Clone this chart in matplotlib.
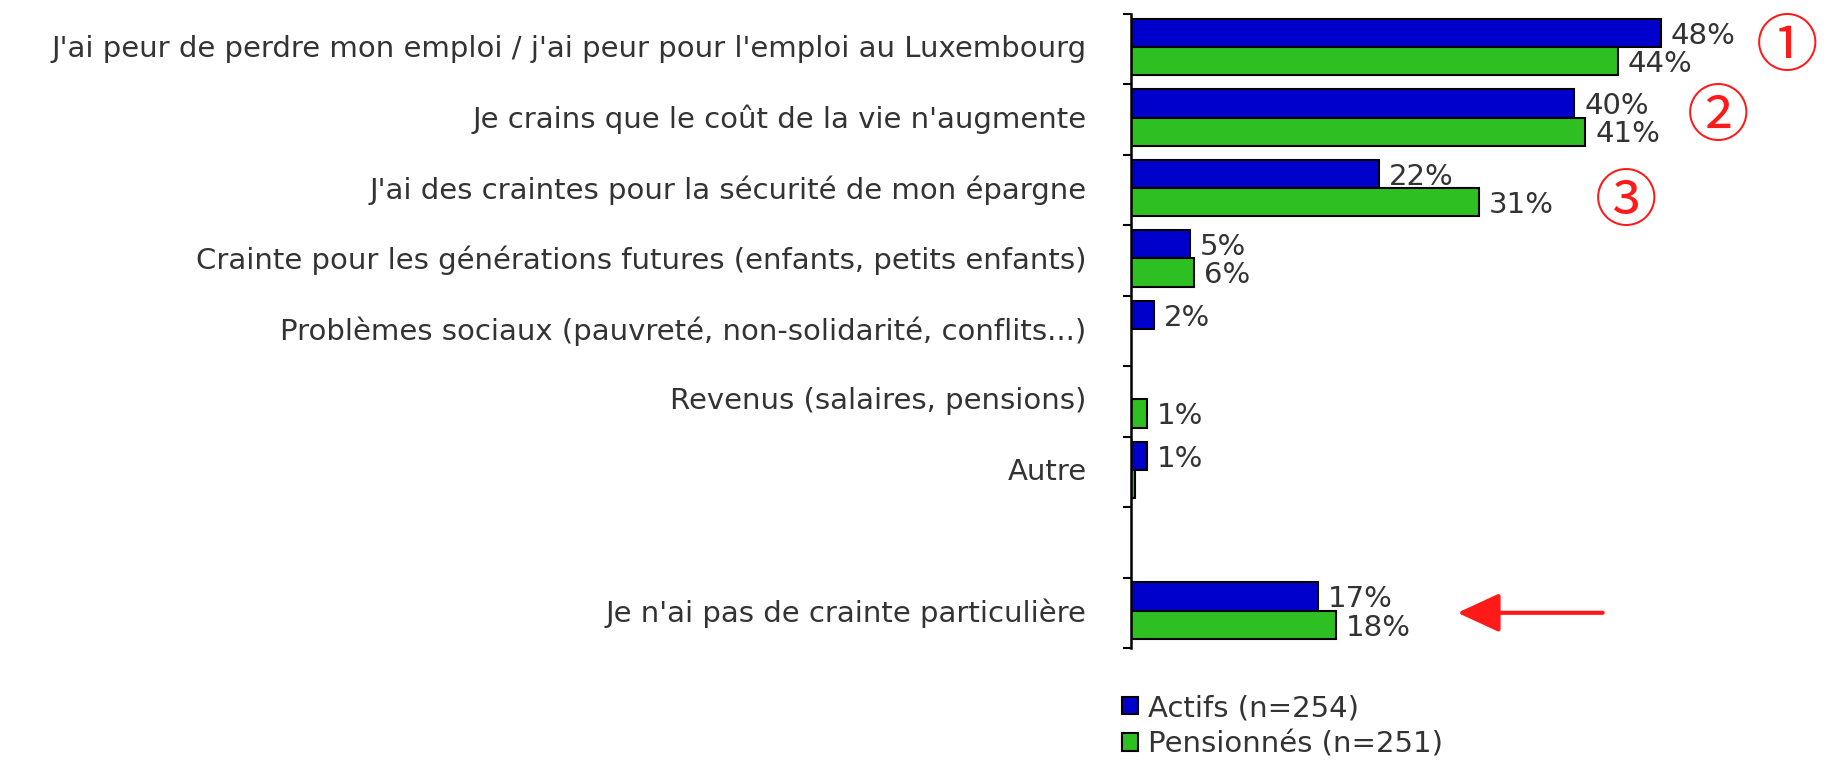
import matplotlib
matplotlib.use("Agg")
import matplotlib.pyplot as plt
from matplotlib.patches import Patch

# categories, top to bottom (None = empty slot)
categories = [
    "J'ai peur de perdre mon emploi / j'ai peur pour l'emploi au Luxembourg",
    "Je crains que le coût de la vie n'augmente",
    "J'ai des craintes pour la sécurité de mon épargne",
    "Crainte pour les générations futures (enfants, petits enfants)",
    "Problèmes sociaux (pauvreté, non-solidarité, conflits...)",
    "Revenus (salaires, pensions)",
    "Autre",
    None,
    "Je n'ai pas de crainte particulière",
]
actifs = [47.8, 40.0, 22.4, 5.3, 2.1, 0.0, 1.4, None, 16.9]
pensionnes = [43.9, 41.0, 31.4, 5.7, 0.0, 1.4, 0.4, None, 18.5]
series_names = ["Actifs (n=254)", "Pensionnés (n=251)"]
ranks = ["①", "②", "③"]

BLUE = "#0000cc"
GREEN = "#2ebf23"
TXT = "#333333"
FS = 21

plt.rcParams['font.family'] = ['DejaVu Sans']

fig = plt.figure(figsize=(18.3, 7.61), dpi=100)
ax = fig.add_axes([1131 / 1830, 1 - 648 / 761, 1 - 1131 / 1830, (648 - 14) / 761])

n = len(categories)
for i, (a, p) in enumerate(zip(actifs, pensionnes)):
    if a is None:
        continue
    for v, col, off in ((a, BLUE, -0.23), (p, GREEN, 0.17)):
        if v <= 0:
            continue
        ax.barh(i + off, v, height=0.4, color=col, edgecolor="black", linewidth=1.5)
        if v >= 0.5:
            ax.text(v + 0.9, i + off + 0.04, f"{v:.0f}%", va="center", ha="left",
                    fontsize=FS, color=TXT)

ax.set_ylim(n - 0.5, -0.5)
ax.set_xlim(0, 700 / 11.1)
ax.set_yticks([k - 0.5 for k in range(n + 1)])
ax.set_yticklabels([])
ax.tick_params(axis="y", length=6, width=1.5)
ax.set_xticks([])
for s in ("top", "right", "bottom"):
    ax.spines[s].set_visible(False)
ax.spines["left"].set_linewidth(1.8)

for i, c in enumerate(categories):
    if c:
        ax.text(-4.0, i, c, ha="right", va="center", fontsize=FS, color=TXT, clip_on=False)

# red annotations
rank_pos = [(59.2, 0.0), (53.0, 1.0), (44.7, 2.2)]
for r, (x, y) in zip(ranks, rank_pos):
    ax.text(x, y - 0.02, r, ha="center", va="center", fontsize=45, color="#ff1a1a",
            family=['Noto Sans CJK JP', 'DejaVu Sans'], clip_on=False)
ax.annotate("", xy=(29.2, 8.0), xytext=(42.8, 8.0),
            arrowprops=dict(arrowstyle="-|>,head_length=1.3,head_width=0.6",
                            color="#ff1a1a", lw=3.0, mutation_scale=20))

handles = [Patch(facecolor=BLUE, edgecolor="black", linewidth=1.5),
           Patch(facecolor=GREEN, edgecolor="black", linewidth=1.5)]
fig.legend(handles, series_names, loc="upper left", bbox_to_anchor=(1122 / 1830, 1 - 694 / 761),
           frameon=False, fontsize=FS, handlelength=0.55, handleheight=0.55,
           handletextpad=0.35, borderpad=0, borderaxespad=0, labelspacing=0.28,
           labelcolor=TXT)

fig.savefig("out.png", dpi=100)
